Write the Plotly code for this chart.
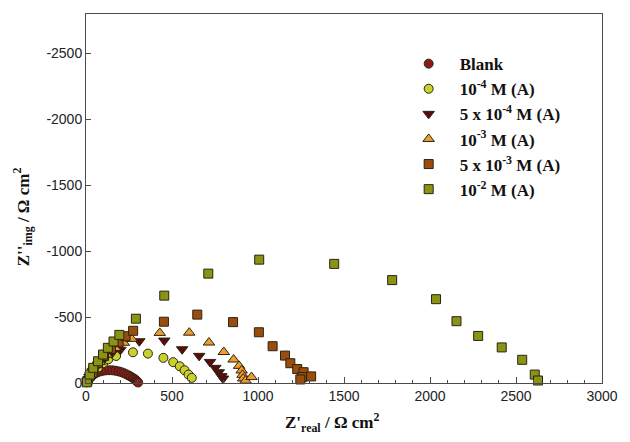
import plotly.graph_objects as go

# ---- data ----
blank_x = [5, 12, 22, 35, 50, 65, 82, 100, 118, 136, 154, 172, 190, 206, 222, 236, 250, 262, 274, 284, 292, 298, 303]
blank_y = [-5, -20, -38, -55, -70, -80, -88, -93, -96, -97, -96, -93, -88, -82, -74, -65, -56, -47, -37, -28, -19, -11, -4]

a1e4_x = [10, 25, 45, 70, 100, 130, 175, 273, 360, 450, 507, 545, 573, 596, 615]
a1e4_y = [-15, -45, -80, -115, -150, -180, -205, -233, -223, -191, -158, -127, -97, -64, -39]

a5e4_x = [8, 20, 40, 70, 110, 150, 200, 310, 455, 559, 658, 721, 752, 772, 787, 797]
a5e4_y = [-15, -45, -90, -140, -190, -225, -252, -317, -322, -256, -206, -160, -115, -82, -52, -34]

a1e3_x = [8, 20, 45, 80, 120, 170, 220, 265, 429, 600, 715, 801, 858, 890, 905, 910, 914, 928, 962]
a1e3_y = [-15, -50, -100, -160, -215, -265, -305, -335, -380, -382, -307, -235, -178, -130, -95, -62, -34, -18, -45]

a5e3_x = [8, 20, 40, 70, 105, 145, 190, 230, 274, 453, 647, 855, 1005, 1085, 1157, 1188, 1228, 1265, 1256, 1309, 1246]
a5e3_y = [-15, -50, -95, -150, -205, -260, -310, -355, -396, -465, -519, -462, -385, -279, -208, -150, -106, -82, -45, -50, -27]

a1e2_x = [5, 23, 42, 70, 99, 127, 160, 194, 290, 455, 711, 1007, 1443, 1780, 2035, 2154, 2280, 2417, 2536, 2609, 2628]
a1e2_y = [-5, -64, -115, -165, -216, -267, -315, -365, -488, -663, -830, -936, -904, -781, -636, -469, -357, -270, -176, -64, -19]

series_names = ["Blank", "10<sup>-4</sup> M (A)", "5 x 10<sup>-4</sup> M (A)",
                "10<sup>-3</sup> M (A)", "5 x 10<sup>-3</sup> M (A)", "10<sup>-2</sup> M (A)"]

x_tickvals = [0, 500, 1000, 1500, 2000, 2500, 3000]
y_tickvals = [0, -500, -1000, -1500, -2000, -2500]
y_ticktext = ["0", "-500", "-1000", "-1500", "-2000", "-2500"]

x_title = "Z'<sub>real</sub> / Ω cm<sup>2</sup>"
y_title = "Z''<sub>img</sub> / Ω cm<sup>2</sup>"

# ---- styling ----
xs = [blank_x, a1e4_x, a5e4_x, a1e3_x, a5e3_x, a1e2_x]
ys = [blank_y, a1e4_y, a5e4_y, a1e3_y, a5e3_y, a1e2_y]
colors = ["#8E1B1B", "#C9D22C", "#5A0C0C", "#EE9B30", "#9A4D0E", "#8A9414"]
symbols = ["circle", "circle", "triangle-down", "triangle-up", "square", "square"]
sizes = [9, 9, 10, 10, 9, 9]

fig = go.Figure()
for i in range(6):
    fig.add_trace(go.Scatter(
        x=xs[i], y=ys[i], mode="markers", name=series_names[i],
        legendgroup=f"g{i}",
        marker=dict(symbol=symbols[i], size=sizes[i], color=colors[i],
                    line=dict(color="#2B2410", width=1)),
        cliponaxis=False,
    ))

axis_line = "#4a4a4a"
title_font = dict(family="Liberation Serif", size=17, color="#111", weight="bold")
fig.update_layout(
    width=630, height=442,
    margin=dict(l=86, r=17, t=14, b=59),
    paper_bgcolor="white", plot_bgcolor="white",
    showlegend=True,
    legend=dict(
        x=0.604, y=0.913, xanchor="left", yanchor="top",
        font=dict(family="Liberation Serif", size=17, color="#111", weight="bold"),
        itemwidth=52, tracegroupgap=0, bgcolor="rgba(0,0,0,0)",
        traceorder="grouped",
    ),
    xaxis=dict(
        range=[0, 3000], tickvals=x_tickvals, ticks="inside", ticklen=6,
        tickcolor=axis_line, showline=True, linecolor=axis_line, linewidth=1,
        mirror=True, showgrid=False, zeroline=False,
        minor=dict(dtick=100, ticks="inside", ticklen=3, tickcolor=axis_line, showgrid=False),
        tickfont=dict(family="Liberation Sans", size=14, color="#222"),
    ),
    yaxis=dict(
        range=[0, -2800], tickvals=y_tickvals, ticktext=y_ticktext, ticks="inside", ticklen=5,
        tickcolor=axis_line, showline=True, linecolor=axis_line, linewidth=1,
        mirror=True, showgrid=False, zeroline=False,
        tickfont=dict(family="Liberation Sans", size=14, color="#222"),
    ),
    annotations=[
        dict(text=x_title, xref="paper", yref="paper", x=0.476, y=-0.108,
             xanchor="center", yanchor="middle", showarrow=False, font=title_font),
        dict(text=y_title, xref="paper", yref="paper", x=-0.1214, y=0.45,
             xanchor="center", yanchor="middle", showarrow=False, textangle=-90,
             font=title_font),
    ],
)

fig.write_html("out.html")
